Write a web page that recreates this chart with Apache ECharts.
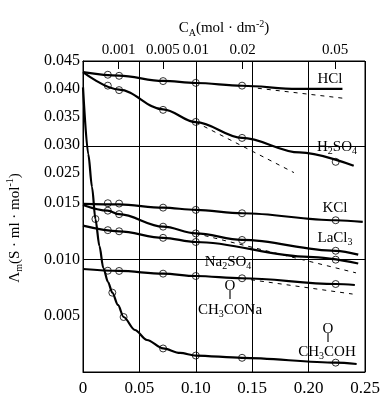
<!DOCTYPE html>
<html>
<head>
<meta charset="utf-8">
<script src="https://cdn.jsdelivr.net/npm/echarts@6/dist/echarts.min.js"></script>
<style>
html,body{margin:0;padding:0;background:#fff;}
#chart{width:384px;height:415px;}
</style>
</head>
<body>
<div id="chart"></div>
<script>
// ---------- data (x = sqrt(C), y = molar conductivity) ----------
const yTicks = [0.005, 0.010, 0.015, 0.025, 0.030, 0.035, 0.040, 0.045];
const yTickLabels = ['0.005', '0.010', '0.015', '0.025', '0.030', '0.035', '0.040', '0.045'];
const topC = [0.001, 0.005, 0.01, 0.02, 0.05];
const topLabels = ['0.001', '0.005', '0.01', '0.02', '0.05'];

const hclLine = [[0, 0.0430], [0.032, 0.04236], [0.071, 0.04142], [0.100, 0.04105], [0.141, 0.04055], [0.19, 0.0400], [0.230, 0.0400]];
const hclPoints = [[0.022, 0.04253], [0.032, 0.04234], [0.071, 0.04139], [0.100, 0.04107], [0.141, 0.04057]];
const hclDash = [[0.155, 0.0401], [0.231, 0.0383]];

const h2so4Line = [[0, 0.0430], [0.032, 0.03985], [0.071, 0.03630], [0.100, 0.03400], [0.141, 0.03118], [0.192, 0.02857], [0.240, 0.02618]];
const h2so4Points = [[0.022, 0.04057], [0.032, 0.03977], [0.071, 0.03622], [0.100, 0.03405], [0.141, 0.03118], [0.224, 0.02688]];
const h2so4Dash = [[0.100, 0.0340], [0.187, 0.0249]];

const kclLine = [[0, 0.01492], [0.032, 0.01487], [0.071, 0.01459], [0.100, 0.01439], [0.141, 0.01409], [0.224, 0.01347], [0.248, 0.01332]];
const kclPoints = [[0.022, 0.01498], [0.032, 0.01495], [0.071, 0.01459], [0.100, 0.01439], [0.141, 0.01409], [0.224, 0.01347]];

const lacl3Line = [[0, 0.01483], [0.022, 0.01432], [0.032, 0.01401], [0.071, 0.01290], [0.100, 0.01230], [0.141, 0.01172], [0.224, 0.01076], [0.244, 0.01042]];
const lacl3Points = [[0.022, 0.01432], [0.032, 0.01401], [0.071, 0.01290], [0.100, 0.01230], [0.141, 0.01172], [0.224, 0.01076]];
const lacl3Dash = [[0.100, 0.0123], [0.242, 0.0088]];

const na2so4Line = [[0, 0.01299], [0.032, 0.01249], [0.071, 0.01191], [0.100, 0.01154], [0.200, 0.01022], [0.244, 0.00963]];
const na2so4Points = [[0.022, 0.01259], [0.032, 0.01249], [0.071, 0.01191], [0.100, 0.01154], [0.224, 0.00997]];

const naacLine = [[0, 0.00914], [0.032, 0.00897], [0.071, 0.00873], [0.100, 0.00852], [0.141, 0.00832], [0.224, 0.00781], [0.241, 0.00772]];
const naacPoints = [[0.022, 0.00899], [0.032, 0.00897], [0.071, 0.00873], [0.100, 0.00852], [0.141, 0.00832], [0.224, 0.00781]];
const naacDash = [[0.141, 0.0083], [0.239, 0.00692]];

const hacLine = [[0, 0.04025], [0.0047, 0.02825], [0.008, 0.02021], [0.011, 0.01358], [0.0146, 0.01118], [0.018, 0.00923], [0.0222, 0.00799], [0.026, 0.00704], [0.031, 0.00595], [0.036, 0.00488], [0.046, 0.00373], [0.0567, 0.00284], [0.071, 0.00209], [0.086, 0.00169], [0.100, 0.00146], [0.141, 0.00126], [0.224, 0.00083], [0.2426, 0.00071]];
const hacPoints = [[0.011, 0.01358], [0.026, 0.00704], [0.036, 0.00488], [0.071, 0.00209], [0.100, 0.00146], [0.141, 0.00126], [0.224, 0.00083]];

// ---------- broken y scale (display mapping) ----------
const LOW_TOP = 0.015, HIGH_BOTTOM = 0.025;
const GAP_SCALE = 0.2726, UP_SCALE = 0.49395;
const D_HIGH_BOTTOM = LOW_TOP + (HIGH_BOTTOM - LOW_TOP) * GAP_SCALE;
function D(v) {
  if (v <= LOW_TOP) return v;
  if (v <= HIGH_BOTTOM) return LOW_TOP + (v - LOW_TOP) * GAP_SCALE;
  return D_HIGH_BOTTOM + (v - HIGH_BOTTOM) * UP_SCALE;
}
const yPos = yTicks.map(D);
const topPos = topC.map(Math.sqrt);

const FONT = "'Liberation Serif','Times New Roman',serif";

function mapData(arr) { return arr.map(p => [p[0], D(p[1])]); }
function solid(arr, extra) {
  return Object.assign({
    type: 'line', data: mapData(arr), smooth: 0.35, smoothMonotone: 'x', symbol: 'none',
    lineStyle: { color: '#000', width: 2.2 }, z: 3, silent: true
  }, extra || {});
}
function dashed(arr) {
  return { type: 'line', data: mapData(arr), symbol: 'none', silent: true, z: 2,
    lineStyle: { color: '#000', width: 1, type: [4, 5] } };
}
function circles(arr) {
  return { type: 'scatter', data: mapData(arr), symbol: 'circle', symbolSize: 7, silent: true, z: 4,
    itemStyle: { color: 'rgba(0,0,0,0)', borderColor: '#000', borderWidth: 1 } };
}

const chart = echarts.init(document.getElementById('chart'), null, { renderer: 'canvas' });

const richBase = {
  a: { fontFamily: FONT, fontSize: 15, color: '#000' },
  s: { fontFamily: FONT, fontSize: 10, color: '#000', padding: [9, 0, 0, 0] },
  p: { fontFamily: FONT, fontSize: 10, color: '#000', padding: [0, 0, 9, 0] }
};
function label(text, x, y, size) {
  return { type: 'text', x: x, y: y, silent: true, z: 10,
    style: { text: text, rich: richBase, textAlign: 'center', textVerticalAlign: 'middle',
      fontFamily: FONT, fontSize: size || 15, fill: '#000' } };
}

const option = {
  animation: false,
  backgroundColor: '#fff',
  grid: { left: 83, right: 19, top: 61, bottom: 43, show: true, borderColor: '#000', borderWidth: 1 },
  xAxis: [
    {
      type: 'value', min: 0, max: 0.25, interval: 0.05, position: 'bottom',
      axisLine: { show: true, lineStyle: { color: '#000', width: 1 } },
      axisTick: { show: false },
      axisLabel: { fontFamily: FONT, fontSize: 17, color: '#000', margin: 8,
        formatter: v => (v === 0 ? '0' : v.toFixed(2)) },
      splitLine: { show: true, lineStyle: { color: '#000', width: 1 } }
    },
    {
      type: 'value', min: 0, max: 0.25, position: 'top',
      axisLine: { show: true, lineStyle: { color: '#000', width: 1 } },
      axisTick: { show: true, inside: true, length: 8, customValues: topPos, lineStyle: { color: '#000', width: 1 } },
      axisLabel: { customValues: topPos, fontFamily: FONT, fontSize: 15, color: '#000', margin: 3,
        formatter: v => {
          let best = 0;
          topPos.forEach((p, i) => { if (Math.abs(p - v) < Math.abs(topPos[best] - v)) best = i; });
          return topLabels[best];
        } },
      splitLine: { show: false },
      name: '{a|C}{s|A}{a|(mol · dm}{p|-2}{a|)}',
      nameLocation: 'middle', nameGap: 23,
      nameTextStyle: { rich: richBase, fontFamily: FONT, fontSize: 15, color: '#000' }
    }
  ],
  yAxis: {
    type: 'value', min: 0, max: D(0.045),
    axisLine: { show: true, lineStyle: { color: '#000', width: 1 } },
    axisTick: { show: false },
    splitLine: { show: false },
    axisLabel: { customValues: yPos, fontFamily: FONT, fontSize: 16, color: '#000', margin: 3,
      formatter: v => {
        let best = 0;
        yPos.forEach((p, i) => { if (Math.abs(p - v) < Math.abs(yPos[best] - v)) best = i; });
        return yTickLabels[best];
      } }
  },
  series: [
    solid(kclLine, {
      markLine: {
        silent: true, symbol: ['none', 'none'], label: { show: false },
        lineStyle: { color: '#000', width: 1, type: 'solid' },
        data: yPos.map(p => ({ yAxis: p }))
      }
    }),
    circles(kclPoints),
    solid(hclLine), circles(hclPoints), dashed(hclDash),
    solid(h2so4Line), circles(h2so4Points), dashed(h2so4Dash),
    solid(lacl3Line), circles(lacl3Points), dashed(lacl3Dash),
    solid(na2so4Line), circles(na2so4Points),
    solid(naacLine), circles(naacPoints), dashed(naacDash),
    solid(hacLine, { smooth: 0.3 }), circles(hacPoints)
  ],
  graphic: [
    label('{a|HCl}', 330, 79),
    label('{a|H}{s|2}{a|SO}{s|4}', 337, 147),
    label('{a|KCl}', 335, 208),
    label('{a|LaCl}{s|3}', 335, 238),
    label('{a|Na}{s|2}{a|SO}{s|4}', 228, 262),
    label('{a|O}', 230, 286),
    label('‖', 230, 296, 12),
    label('{a|CH}{s|3}{a|CONa}', 230, 310),
    label('{a|O}', 328, 329),
    label('‖', 328, 339, 12),
    label('{a|CH}{s|3}{a|COH}', 327, 352),
    {
      type: 'text', x: 15, y: 228, rotation: Math.PI / 2, silent: true,
      style: { text: 'Λ{s|m}{a|(S · ml · mol}{p|-1}{a|)}', rich: richBase,
        textAlign: 'center', textVerticalAlign: 'middle', fontFamily: FONT, fontSize: 15, fill: '#000' }
    }
  ]
};
chart.setOption(option);
</script>
</body>
</html>
